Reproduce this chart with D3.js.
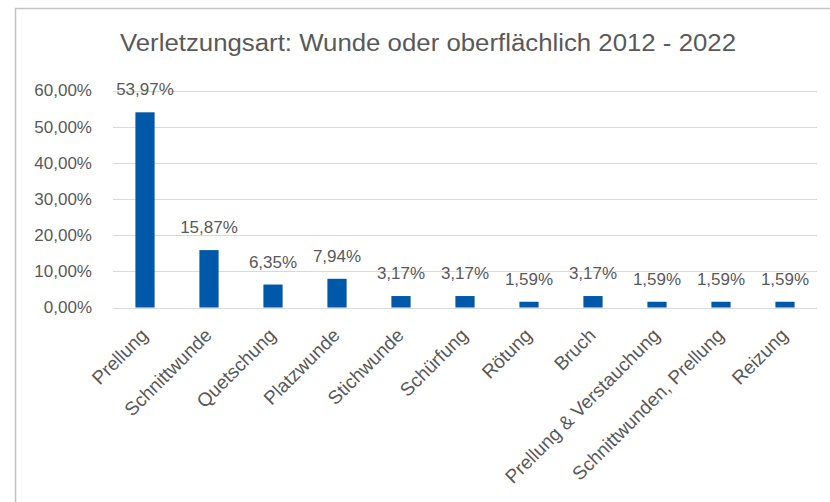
<!DOCTYPE html>
<html>
<meta charset="utf-8">
<script src="https://d3js.org/d3.v7.min.js"></script>
<style>
  body { margin: 0; background: #fff; }
  text { font-family: "Liberation Sans", Arial, sans-serif; fill: #595959; }
</style>
<body>
<div id="chart"></div>
<script>

    // data
    var kategorien = ["Prellung", "Schnittwunde", "Quetschung", "Platzwunde", "Stichwunde",
                      "Schürfung", "Rötung", "Bruch", "Prellung & Verstauchung",
                      "Schnittwunden, Prellung", "Reizung"];
    var anteile = [53.97, 15.87, 6.35, 7.94, 3.17, 3.17, 1.59, 3.17, 1.59, 1.59, 1.59];
    var yTicks = [0, 10, 20, 30, 40, 50, 60];
    var titel = "Verletzungsart: Wunde oder oberflächlich 2012 - 2022";

    var W = 830, H = 502;
    var plot = {left: 113, right: 817, top: 90.5, bottom: 307.5};

    var de = d3.formatLocale({decimal: ",", thousands: ".", grouping: [3], currency: ["", " €"]});
    var fmt = de.format(".2f");

    var svg = d3.select("#chart")
      .append("svg")
        .attr("width", W)
        .attr("height", H);

    // chart frame (only left and top edges visible in the picture)
    svg.append("rect")
      .attr("x", 15.5)
      .attr("y", 8.5)
      .attr("width", 900)
      .attr("height", 600)
      .attr("fill", "none")
      .attr("stroke", "#c4c4c4")
      .attr("stroke-width", 1.5);

    svg.append("text")
      .attr("x", 428)
      .attr("y", 51)
      .attr("text-anchor", "middle")
      .attr("textLength", 616)
      .attr("lengthAdjust", "spacingAndGlyphs")
      .style("font-size", "23px")
      .text(titel);

    var x = d3.scaleBand()
      .domain(kategorien)
      .range([plot.left, plot.right])
      .paddingInner(0.7)
      .paddingOuter(0.35);

    var y = d3.scaleLinear()
      .domain([0, 60])
      .range([plot.bottom, plot.top]);

    // gridlines
    svg.append("g")
      .selectAll("line")
      .data(yTicks)
      .enter()
      .append("line")
        .attr("x1", plot.left)
        .attr("x2", plot.right)
        .attr("y1", function(d) { return Math.round(y(d)) + 0.5; })
        .attr("y2", function(d) { return Math.round(y(d)) + 0.5; })
        .attr("stroke", "#d9d9d9")
        .attr("stroke-width", 1);

    // y axis labels
    var yAxis = svg.append("g")
      .attr("transform", "translate(" + plot.left + ",0)")
      .call(d3.axisLeft(y).tickValues(yTicks).tickSize(0).tickPadding(21)
              .tickFormat(function(d) { return fmt(d) + "%"; }));
    yAxis.select(".domain").remove();
    yAxis.selectAll("text")
      .style("font-size", "17px")
      .style("font-family", "'Liberation Sans', Arial, sans-serif")
      .attr("fill", "#595959");

    // bars
    svg.selectAll("rect.bar")
      .data(anteile)
      .enter()
      .append("rect")
        .attr("class", "bar")
        .attr("x", function(d, i) { return x(kategorien[i]); })
        .attr("y", function(d) { return y(d); })
        .attr("width", x.bandwidth())
        .attr("height", function(d) { return plot.bottom - y(d); })
        .attr("fill", "#0058a8");

    // value labels
    svg.selectAll("text.wert")
      .data(anteile)
      .enter()
      .append("text")
        .attr("class", "wert")
        .attr("x", function(d, i) { return x(kategorien[i]) + x.bandwidth() / 2; })
        .attr("y", function(d) { return y(d) - 17; })
        .attr("text-anchor", "middle")
        .style("font-size", "17px")
        .text(function(d) { return fmt(d) + "%"; });

    // x axis labels, rotated
    var xAxis = svg.append("g")
      .attr("transform", "translate(0," + plot.bottom + ")")
      .call(d3.axisBottom(x).tickSize(0).tickPadding(0));
    xAxis.select(".domain").remove();
    xAxis.selectAll("text")
      .attr("y", 0)
      .attr("dy", 0)
      .attr("transform", "translate(4,29)rotate(-45)")
      .style("text-anchor", "end")
      .style("font-size", "19px")
      .style("font-family", "'Liberation Sans', Arial, sans-serif")
      .attr("fill", "#595959");

</script>
</body>
</html>
